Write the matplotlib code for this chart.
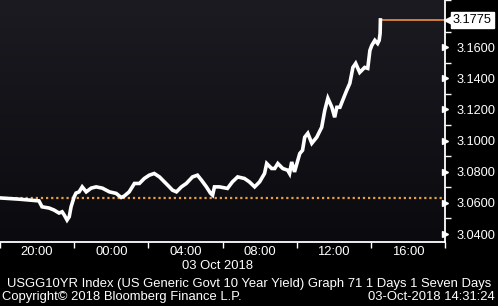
import numpy as np
import pandas as pd
import matplotlib
matplotlib.use('Agg')
import matplotlib.pyplot as plt
from matplotlib.colors import LinearSegmentedColormap
from matplotlib.transforms import blended_transform_factory

plt.rcParams['font.family'] = ['Liberation Sans', 'DejaVu Sans']

# intraday US 10y yield, times from 18:00 on 02 Oct
times = ['18:00', '19:02', '20:06', '20:16', '20:39', '20:55', '21:11', '21:21', '21:28', '21:37',
         '21:44', '21:50', '22:00', '22:06', '22:16', '22:26', '22:39', '22:55', '23:11', '23:31',
         '23:54', '00:16', '00:32', '00:42', '00:58', '01:15', '01:31', '01:47', '02:03', '02:19',
         '02:36', '02:52', '03:08', '03:18', '03:31', '03:47', '04:03', '04:23', '04:39', '04:52',
         '05:08', '05:21', '05:28', '05:34', '05:50', '06:16', '06:32', '06:49', '07:11', '07:27',
         '07:44', '08:00', '08:16', '08:23', '08:39', '08:49', '08:59', '09:15', '09:31', '09:37',
         '09:44', '09:53', '10:10', '10:19', '10:26', '10:36', '10:49', '11:05', '11:21', '11:31',
         '11:41', '11:54', '12:03', '12:10', '12:20', '12:29', '12:42', '12:52', '13:02', '13:11',
         '13:24', '13:40', '13:50', '13:57', '14:03', '14:13', '14:22', '14:27', '14:30', '14:31']
yields = [3.0632, 3.0624, 3.0613, 3.0575, 3.0567, 3.0554, 3.0535, 3.0543, 3.0522, 3.0490,
          3.0511, 3.0575, 3.0639, 3.0663, 3.0671, 3.0703, 3.0671, 3.0695, 3.0703, 3.0695,
          3.0671, 3.0661, 3.0635, 3.0644, 3.0671, 3.0725, 3.0725, 3.0757, 3.0778, 3.0789,
          3.0767, 3.0735, 3.0703, 3.0682, 3.0671, 3.0703, 3.0725, 3.0767, 3.0778, 3.0746,
          3.0703, 3.0663, 3.0650, 3.0703, 3.0703, 3.0693, 3.0735, 3.0767, 3.0757, 3.0735,
          3.0703, 3.0735, 3.0789, 3.0853, 3.0821, 3.0821, 3.0853, 3.0821, 3.0810, 3.0789,
          3.0863, 3.0799, 3.0917, 3.0938, 3.1022, 3.1047, 3.0983, 3.1022, 3.1086, 3.1195,
          3.1272, 3.1214, 3.1150, 3.1214, 3.1214, 3.1259, 3.1323, 3.1368, 3.1470, 3.1496,
          3.1438, 3.1470, 3.1464, 3.1579, 3.1611, 3.1644, 3.1624, 3.1644, 3.1688, 3.1775]
prev_close = 3.0633
last_value = 3.1775
y_major = [3.04, 3.06, 3.08, 3.10, 3.12, 3.14, 3.16]
y_minor = [3.05, 3.07, 3.09, 3.11, 3.13, 3.15, 3.17, 3.19]
x_labels = ['20:00', '00:00', '04:00', '08:00', '12:00', '16:00']

start = pd.Timestamp('2018-10-02 18:00')
stamps = []
for t in times:
    ts = pd.Timestamp('2018-10-02 ' + t)
    if ts < start:
        ts += pd.Timedelta(days=1)
    stamps.append(ts)
end = pd.Timestamp('2018-10-03 18:00')

fig = plt.figure(figsize=(4.98, 3.06), dpi=100, facecolor='black')
ax = fig.add_axes([0, 1 - 242 / 306, 445 / 498, 242 / 306])

# background gradient
cmap = LinearSegmentedColormap.from_list('bg', ['#1c1b21', '#0a0a0f'])
grad = np.linspace(0, 1, 256).reshape(-1, 1)
ax.imshow(grad, extent=[0, 1, 0, 1], transform=ax.transAxes, aspect='auto',
          cmap=cmap, zorder=0)

ax.plot(stamps, yields, color='white', lw=2.6, solid_joinstyle='miter', zorder=3)
ax.axhline(prev_close, color='#e6a040', lw=1.6, ls=(0, (1, 1.3)), zorder=2)
ax.hlines(last_value, stamps[-1], end, color='#ee9040', lw=1.2, zorder=2)

ax.set_xlim(start, end)
ax.set_ylim(3.0349, 3.1903)

# x axis: ticks every 4h from 18:00, labels between them
ax.set_xticks(pd.date_range(start, end, freq='4h'))
ax.xaxis.set_major_formatter(plt.NullFormatter())
lab_pos = pd.date_range('2018-10-02 20:00', periods=len(x_labels), freq='4h')
ax.set_xticks(lab_pos, minor=True)
ax.set_xticklabels(x_labels, minor=True)
ax.tick_params(axis='x', which='major', length=4, width=1, color='white', direction='out')
ax.tick_params(axis='x', which='minor', length=0, pad=3, labelsize=9.4, labelcolor='white')

# y axis on the right
ax.yaxis.tick_right()
ax.set_yticks(y_major)
ax.set_yticklabels([f'{v:.4f}' for v in y_major])
ax.set_yticks(y_minor, minor=True)
ax.tick_params(axis='y', which='major', length=0, pad=8, labelsize=9.2, labelcolor='white')
ax.tick_params(axis='y', which='minor', length=4, width=1, color='white', direction='out')

trans = blended_transform_factory(ax.transAxes, ax.transData)
ax.plot([1.0] * len(y_major), y_major, marker='>', ms=5, color='white', ls='none',
        transform=trans, clip_on=False, zorder=5)

# last value tag
ax.plot([1.008], [last_value], marker='<', ms=7, color='white', ls='none',
        transform=trans, clip_on=False, zorder=5)
ax.text(1.018, last_value, f'{last_value:.4f}', transform=trans, va='center', ha='left',
        fontsize=9.2, color='black', zorder=6,
        bbox=dict(boxstyle='square,pad=0.15', fc='white', ec='white'))

for side in ['left', 'top']:
    ax.spines[side].set_visible(False)
for side in ['right', 'bottom']:
    ax.spines[side].set_color('white')
    ax.spines[side].set_linewidth(1.3)

fs = 9.35
fig.text(182 / 498, 1 - 266 / 306, '03 Oct 2018', color='white', fontsize=fs,
         ha='left', va='center')
fig.text(7 / 498, 1 - 283.5 / 306,
         'USGG10YR Index (US Generic Govt 10 Year Yield) Graph 71 1 Days 1 Seven Days',
         color='white', fontsize=fs, ha='left', va='center')
fig.text(2 / 498, 1 - 297 / 306, 'Copyright\u00a9 2018 Bloomberg Finance L.P.',
         color='white', fontsize=fs, ha='left', va='center')
fig.text(495 / 498, 1 - 297 / 306, '03-Oct-2018 14:31:24', color='white', fontsize=fs,
         ha='right', va='center')

fig.savefig('out.png', dpi=100, facecolor='black')
